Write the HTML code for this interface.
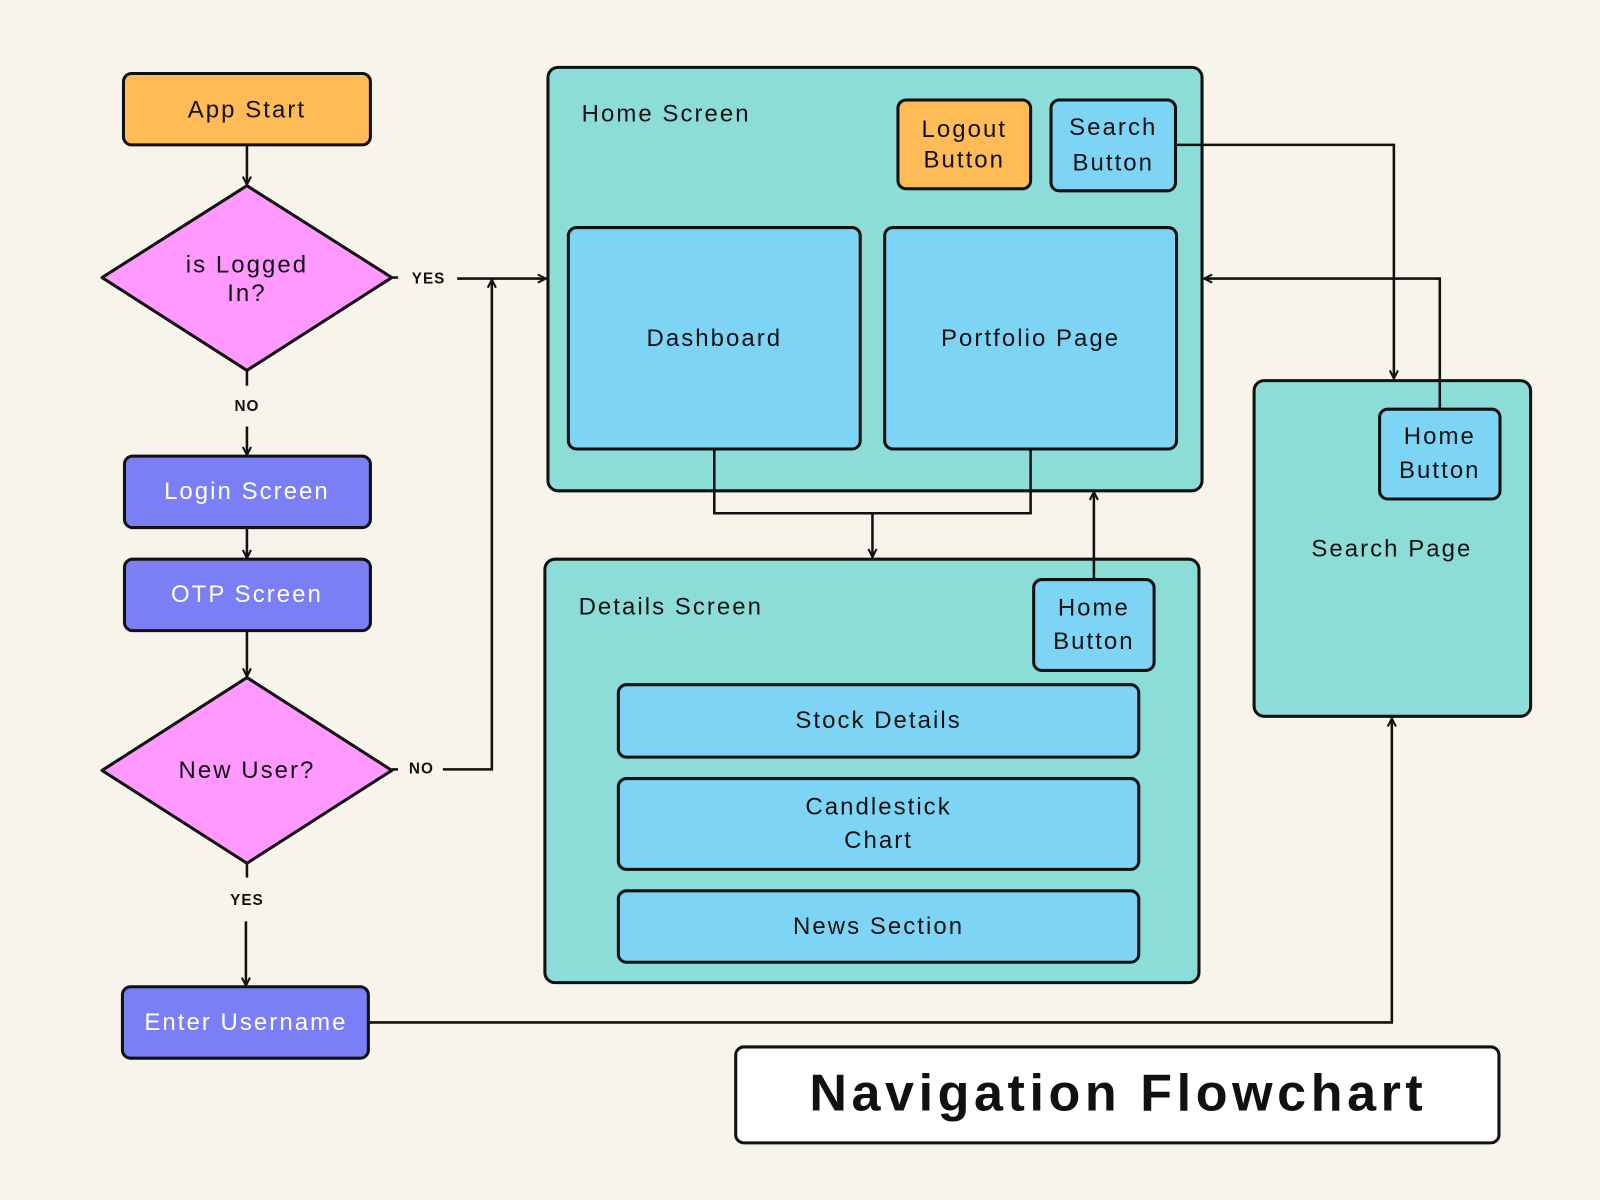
<!DOCTYPE html>
<html><head><meta charset="utf-8"><style>
html,body{margin:0;padding:0;background:#f7f4ec;width:1600px;height:1200px;overflow:hidden}
svg{display:block}
text{font-family:"Liberation Sans",sans-serif;font-size:23.5px;letter-spacing:2px;fill:#111;text-anchor:middle;dominant-baseline:middle}
.w{fill:#fff}
.lab{font-size:15px;font-weight:bold;letter-spacing:1px}
.l{text-anchor:start}
</style></head><body>
<svg width="1600" height="1200" viewBox="0 0 1568 1176" xmlns="http://www.w3.org/2000/svg">
<defs><marker id="a" markerWidth="10" markerHeight="10" refX="9" refY="5" orient="auto" markerUnits="userSpaceOnUse"><path d="M1,1 L9,5 L1,9" fill="none" stroke="#111" stroke-width="2"/></marker></defs>
<rect width="1568" height="1176" fill="#f7f4ec"/>
<g stroke="#111" stroke-width="3">
<rect x="121" y="72" width="242" height="70" rx="8" fill="#ffbb55"/>
<polygon points="100,272 242,182 384,272 242,363" fill="#ff99ff" stroke-linejoin="round"/>
<rect x="122" y="447" width="241" height="70" rx="8" fill="#7b7ff5"/>
<rect x="122" y="548" width="241" height="70" rx="8" fill="#7b7ff5"/>
<polygon points="100,755 242,664 384,755 242,846" fill="#ff99ff" stroke-linejoin="round"/>
<rect x="120" y="967" width="241" height="70" rx="8" fill="#7b7ff5"/>
<rect x="537" y="66" width="641" height="415" rx="10" fill="#8cdcd8"/>
<rect x="880" y="98" width="130" height="87" rx="8" fill="#ffbb55"/>
<rect x="1030" y="98" width="122" height="89" rx="8" fill="#7dd4f5"/>
<rect x="557" y="223" width="286" height="217" rx="8" fill="#7dd4f5"/>
<rect x="867" y="223" width="286" height="217" rx="8" fill="#7dd4f5"/>
<rect x="534" y="548" width="641" height="415" rx="10" fill="#8cdcd8"/>
<rect x="1013" y="568" width="118" height="89" rx="8" fill="#7dd4f5"/>
<rect x="606" y="671" width="510" height="71" rx="8" fill="#7dd4f5"/>
<rect x="606" y="763" width="510" height="89" rx="8" fill="#7dd4f5"/>
<rect x="606" y="873" width="510" height="70" rx="8" fill="#7dd4f5"/>
<rect x="1229" y="373" width="271" height="329" rx="10" fill="#8cdcd8"/>
<rect x="1352" y="401" width="118" height="88" rx="8" fill="#7dd4f5"/>
<rect x="721" y="1026" width="748" height="94" rx="8" fill="#fff"/>
</g>
<g stroke="#111" stroke-width="2.5" fill="none">
<line x1="242" y1="142" x2="242" y2="181" marker-end="url(#a)"/>
<line x1="384" y1="272" x2="390" y2="272"/>
<line x1="448" y1="273" x2="535" y2="273" marker-end="url(#a)"/>
<line x1="242" y1="363" x2="242" y2="378"/>
<line x1="242" y1="418" x2="242" y2="446" marker-end="url(#a)"/>
<line x1="242" y1="517" x2="242" y2="547" marker-end="url(#a)"/>
<line x1="242" y1="618" x2="242" y2="663" marker-end="url(#a)"/>
<line x1="384" y1="754" x2="390" y2="754"/>
<polyline points="434,754 482,754 482,274" marker-end="url(#a)"/>
<line x1="242" y1="846" x2="242" y2="860"/>
<line x1="241" y1="903" x2="241" y2="966" marker-end="url(#a)"/>
<polyline points="361,1002 1364,1002 1364,704" marker-end="url(#a)"/>
<polyline points="700,440 700,503 1010,503 1010,440"/>
<line x1="855" y1="503" x2="855" y2="546" marker-end="url(#a)"/>
<line x1="1072" y1="568" x2="1072" y2="482" marker-end="url(#a)"/>
<polyline points="1152,142 1366,142 1366,371" marker-end="url(#a)"/>
<polyline points="1411,401 1411,273 1180,273" marker-end="url(#a)"/>
</g>
<text x="242" y="109">App Start</text>
<text x="242" y="261">is Logged</text><text x="242" y="289">In?</text>
<text x="242" y="483" class="w">Login Screen</text>
<text x="242" y="584" class="w">OTP Screen</text>
<text x="242" y="756">New User?</text>
<text x="241" y="1003" class="w">Enter Username</text>
<text class="lab" x="420" y="274">YES</text>
<text class="lab" x="242" y="399">NO</text>
<text class="lab" x="413" y="754">NO</text>
<text class="lab" x="242" y="883">YES</text>
<text x="570" y="113" class="l">Home Screen</text>
<text x="945" y="128">Logout</text><text x="945" y="158">Button</text>
<text x="1091" y="126">Search</text><text x="1091" y="161">Button</text>
<text x="700" y="333">Dashboard</text>
<text x="1010" y="333">Portfolio Page</text>
<text x="567" y="596" class="l">Details Screen</text>
<text x="1072" y="597">Home</text><text x="1072" y="630">Button</text>
<text x="861" y="707">Stock Details</text>
<text x="861" y="792">Candlestick</text><text x="861" y="825">Chart</text>
<text x="861" y="909">News Section</text>
<text x="1411" y="429">Home</text><text x="1411" y="462">Button</text>
<text x="1364" y="539">Search Page</text>
<text x="1096" y="1075" style="font-size:51px;font-weight:bold;letter-spacing:4.5px">Navigation Flowchart</text>
</svg>
</body></html>
